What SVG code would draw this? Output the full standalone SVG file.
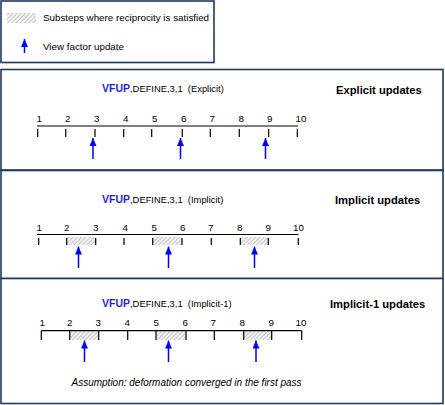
<svg xmlns="http://www.w3.org/2000/svg" width="445" height="405" viewBox="0 0 445 405">
<defs>
<pattern id="hatch" patternUnits="userSpaceOnUse" width="3" height="3" patternTransform="rotate(45)">
<rect width="3" height="3" fill="#f2f2f2"/>
<line x1="0" y1="0" x2="0" y2="3" stroke="#b8b8b8" stroke-width="1.5"/>
</pattern>
<marker id="ah" markerWidth="8" markerHeight="7" refX="8" refY="3.5" orient="auto" markerUnits="userSpaceOnUse">
<path d="M0,0 L8,3.5 L0,7 z" fill="#0000ff"/>
</marker>
<style>
.box{fill:#fff;stroke:#1f3864;stroke-width:1.6}
.axis{stroke:#000;stroke-width:1.2;fill:none}
.arr{stroke:#0000ff;stroke-width:1.5;marker-end:url(#ah)}
.num{font-family:"Liberation Sans",Arial,sans-serif;font-size:9.8px;fill:#000}
.cmd{font-family:"Liberation Sans",Arial,sans-serif;font-size:9.4px;fill:#000;white-space:pre}
.vf{font-weight:bold;font-size:10.5px;fill:#1f1fe0}
.ttl{font-family:"Liberation Sans",Arial,sans-serif;font-size:11.2px;font-weight:bold;fill:#000}
.leg{font-family:"Liberation Sans",Arial,sans-serif;font-size:9.8px;fill:#000}
.note{font-family:"Liberation Sans",Arial,sans-serif;font-size:10px;font-style:italic;fill:#000}
</style>
</defs>
<rect width="445" height="405" fill="#fff"/>

<g id="legend">
<rect class="box" x="1" y="1" width="213" height="61.5"/>
<rect x="7" y="13" width="29" height="10" fill="url(#hatch)"/>
<text class="leg" x="43" y="21">Substeps where reciprocity is satisfied</text>
<line class="arr" x1="24.5" y1="53" x2="24.5" y2="39"/>
<text class="leg" x="43" y="49.5">View factor update</text>
</g>

<g id="panel-explicit">
<rect class="box" x="1" y="69.5" width="442" height="100.5"/>
<text class="cmd" x="102" y="92" xml:space="preserve"><tspan class="vf">VFUP</tspan>,DEFINE,3,1  (Explicit)</text>
<text class="ttl" x="336" y="94">Explicit updates</text>
<g class="num">
<text x="36.5" y="122">1</text><text x="65" y="122">2</text><text x="94" y="122">3</text><text x="123" y="122">4</text><text x="152" y="122">5</text><text x="181" y="122">6</text><text x="209.5" y="122">7</text><text x="238.5" y="122">8</text><text x="267" y="122">9</text><text x="295.5" y="122">10</text>
</g>
<path class="axis" d="M37,126 H298 M37.7,129 V137 M65.7,129 V137 M95,129 V137 M123.7,129 V137 M151.7,129 V137 M182.3,129 V137 M210.3,129 V137 M239.3,129 V137 M268.7,129 V137 M297.3,129 V137"/>
</g>

<g id="panel-implicit">
<rect class="box" x="1" y="170.5" width="442" height="108"/>
<text class="cmd" x="102" y="203" xml:space="preserve"><tspan class="vf">VFUP</tspan>,DEFINE,3,1  (Implicit)</text>
<text class="ttl" x="335" y="204">Implicit updates</text>
<rect x="66.7" y="237" width="29" height="8" fill="url(#hatch)"/>
<rect x="152.7" y="237" width="29.3" height="8" fill="url(#hatch)"/>
<rect x="240.3" y="237" width="28" height="8" fill="url(#hatch)"/>
<g class="num">
<text x="36.5" y="231">1</text><text x="64" y="231">2</text><text x="93" y="231">3</text><text x="122.5" y="231">4</text><text x="151.5" y="231">5</text><text x="180" y="231">6</text><text x="208" y="231">7</text><text x="237" y="231">8</text><text x="265.5" y="231">9</text><text x="293" y="231">10</text>
</g>
<path class="axis" d="M37,234.5 H298.5 M38.7,238 V245 M66.7,238 V245 M95.7,238 V245 M124,238 V245 M152.7,238 V245 M182,238 V245 M211.3,238 V245 M240.3,238 V245 M268.3,238 V245 M298.3,238 V245"/>
</g>

<g id="panel-implicit1">
<rect class="box" x="1" y="278.5" width="442" height="125"/>
<text class="cmd" x="102" y="307" xml:space="preserve"><tspan class="vf">VFUP</tspan>,DEFINE,3,1  (Implicit-1)</text>
<text class="ttl" x="330" y="308">Implicit-1 updates</text>
<rect x="69.7" y="331" width="29" height="9" fill="url(#hatch)"/>
<rect x="156" y="331" width="30" height="9" fill="url(#hatch)"/>
<rect x="243.7" y="331" width="28" height="9" fill="url(#hatch)"/>
<g class="num">
<text x="39.5" y="326">1</text><text x="67" y="326">2</text><text x="95.5" y="326">3</text><text x="124.5" y="326">4</text><text x="153.5" y="326">5</text><text x="182.5" y="326">6</text><text x="210.5" y="326">7</text><text x="239.5" y="326">8</text><text x="268.5" y="326">9</text><text x="295.5" y="326">10</text>
</g>
<path class="axis" d="M41.3,330.7 H301.7 M41.3,330.7 V340 M69.7,330.7 V340 M98.7,330.7 V340 M127.7,330.7 V340 M156,330.7 V340 M186,330.7 V340 M214.3,330.7 V340 M243.7,330.7 V340 M271.7,330.7 V340 M301.7,330.7 V340"/>
<text class="note" x="71.5" y="385.5">Assumption: deformation converged in the first pass</text>
</g>

<g id="connectors">
<line class="arr" x1="93" y1="159" x2="93" y2="138"/>
<line class="arr" x1="180.5" y1="159" x2="180.5" y2="138"/>
<line class="arr" x1="265.5" y1="159" x2="265.5" y2="138"/>
<line class="arr" x1="78.5" y1="268" x2="78.5" y2="246.5"/>
<line class="arr" x1="168.5" y1="268" x2="168.5" y2="246.5"/>
<line class="arr" x1="254.5" y1="268" x2="254.5" y2="246.5"/>
<line class="arr" x1="84.5" y1="362" x2="84.5" y2="340.5"/>
<line class="arr" x1="168.5" y1="362" x2="168.5" y2="340.5"/>
<line class="arr" x1="256" y1="362" x2="256" y2="340.5"/>
</g>
</svg>
